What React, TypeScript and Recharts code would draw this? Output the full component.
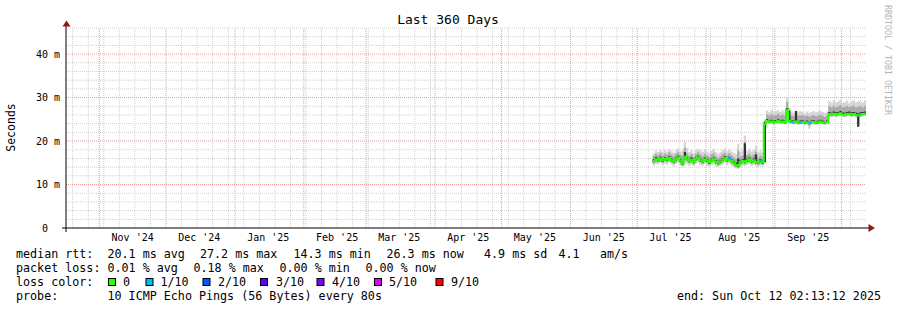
import { Area, ComposedChart, Line, ReferenceLine, XAxis, YAxis } from "recharts";

const FONT = '"DejaVu Sans Mono", monospace';

// x runs in days since Thu Oct 17 2024 (graph start); the graph ends 360 days later.
const firstDay = 264; // Jul 8 '25, first day with samples

// median rtt and the smoke (ms), one value per day from firstDay
const medianMs = [
  15.4, 15.8, 15.6, 16.0, 15.5, 15.9, 15.7, 16.1, 15.6, 15.3,
  15.8, 16.2, 15.5, 14.8, 16.4, 15.9, 15.4, 15.7, 15.2, 15.9,
  16.2, 15.6, 15.3, 15.8, 15.5, 15.1, 15.6, 15.9, 15.2, 14.9,
  15.3, 15.7, 16.1, 15.6, 16.0, 15.4, 15.0, 14.5, 14.3, 15.1,
  15.4, 15.2, 15.5, 15.8, 15.3, 15.6, 15.2, 15.0, 15.4, 15.1,
  24.0, 24.6, 24.4, 24.5, 24.3, 24.4, 24.6, 24.4, 24.5, 24.3,
  27.2, 24.6, 24.4, 24.3, 24.5, 24.2, 24.3, 24.4, 24.2, 24.3,
  24.1, 24.3, 24.4, 24.2, 24.3, 24.5, 24.3, 24.2, 24.4, 26.2,
  26.0, 26.3, 26.1, 26.2, 26.4, 26.1, 26.0, 26.2, 26.3, 26.1,
  26.2, 26.0, 25.9, 26.1, 26.2, 26.3, 26.3,
];
const maxMs = [
  17.2, 17.8, 17.5, 18.0, 17.4, 17.9, 17.6, 18.1, 17.7, 17.3,
  17.9, 18.3, 17.6, 17.8, 19.8, 18.4, 17.5, 17.9, 17.2, 18.0,
  18.2, 17.8, 17.4, 18.1, 17.6, 17.3, 17.8, 18.2, 17.5, 17.1,
  17.4, 17.9, 18.3, 17.7, 18.1, 17.6, 17.3, 17.0, 19.4, 17.5,
  17.8, 21.3, 17.7, 18.2, 17.6, 17.9, 19.0, 17.4, 17.8, 17.3,
  25.0, 27.0, 26.6, 27.2, 26.8, 26.9, 27.1, 26.7, 27.0, 26.6,
  30.2, 27.6, 26.8, 26.5, 27.0, 26.6, 26.9, 26.7, 26.4, 26.8,
  26.5, 26.7, 26.9, 26.6, 26.8, 27.0, 26.7, 26.5, 26.8, 29.2,
  28.8, 29.4, 28.9, 29.1, 29.5, 28.8, 29.0, 29.3, 28.7, 29.2,
  29.4, 28.9, 29.1, 29.3, 28.8, 29.4, 29.0,
];
const minMs = [
  14.3, 14.7, 14.6, 14.9, 14.5, 14.8, 14.6, 15.0, 14.6, 14.2,
  14.7, 15.0, 14.4, 13.9, 14.9, 14.8, 14.3, 14.6, 14.2, 14.8,
  15.0, 14.5, 14.3, 14.7, 14.4, 14.1, 14.5, 14.8, 14.1, 14.0,
  14.3, 14.6, 15.0, 14.5, 14.9, 14.3, 14.0, 13.7, 13.6, 14.1,
  14.4, 14.2, 14.5, 14.7, 14.2, 14.5, 14.2, 14.0, 14.3, 14.1,
  15.0, 24.0, 23.9, 24.1, 23.8, 24.0, 24.1, 23.9, 24.0, 23.8,
  25.8, 24.0, 23.9, 23.8, 24.0, 23.7, 23.8, 23.9, 23.6, 23.8,
  22.8, 23.8, 23.9, 23.7, 23.8, 24.0, 23.8, 23.7, 23.9, 25.6,
  25.5, 25.7, 25.5, 25.6, 25.8, 25.5, 25.4, 25.6, 25.7, 25.5,
  25.6, 25.4, 23.6, 25.5, 25.6, 25.7, 25.7,
];
const midLowMs = [
  14.9, 15.3, 15.2, 15.5, 15.0, 15.4, 15.1, 15.6, 15.2, 14.8,
  15.2, 15.7, 15.0, 14.4, 15.5, 15.4, 14.9, 15.3, 14.7, 15.4,
  15.7, 15.1, 14.8, 15.3, 15.0, 14.6, 15.1, 15.4, 14.8, 14.5,
  14.8, 15.2, 15.6, 15.1, 15.5, 14.9, 14.5, 14.1, 13.9, 14.6,
  14.9, 14.7, 15.0, 15.3, 14.8, 15.1, 14.7, 14.5, 14.9, 14.6,
  15.1, 24.3, 24.1, 24.2, 24.0, 24.1, 24.3, 24.1, 24.2, 24.0,
  26.5, 24.3, 24.1, 24.0, 24.2, 23.9, 24.0, 24.1, 23.9, 24.0,
  23.5, 24.0, 24.1, 23.9, 24.0, 24.2, 24.0, 23.9, 24.1, 25.9,
  25.7, 26.0, 25.8, 25.9, 26.1, 25.8, 25.7, 25.9, 26.0, 25.8,
  25.9, 25.7, 24.2, 25.8, 25.9, 26.0, 26.0,
];
const midHighMs = [
  16.6, 17.1, 16.8, 17.3, 16.7, 17.1, 16.9, 17.4, 16.9, 16.5,
  17.1, 17.4, 16.8, 16.6, 18.5, 17.2, 16.6, 17.0, 16.4, 17.1,
  17.4, 16.9, 16.5, 17.1, 16.7, 16.4, 16.9, 17.2, 16.5, 16.1,
  16.5, 17.0, 17.3, 16.8, 17.2, 16.7, 16.3, 15.9, 17.8, 16.4,
  16.7, 19.8, 16.8, 17.1, 16.5, 16.9, 17.6, 16.2, 16.6, 16.3,
  24.6, 26.1, 25.8, 26.2, 25.9, 26.0, 26.3, 25.9, 26.1, 25.8,
  29.0, 26.4, 25.9, 25.7, 26.1, 25.8, 25.9, 26.0, 25.7, 25.9,
  25.6, 25.8, 26.0, 25.7, 25.9, 26.1, 25.8, 25.6, 25.9, 28.0,
  27.7, 28.2, 27.8, 28.0, 28.3, 27.7, 27.9, 28.1, 27.8, 28.0,
  28.2, 27.8, 27.9, 28.1, 27.7, 28.2, 28.0,
];
const coreLowMs = [
  15.1, 15.5, 15.3, 15.7, 15.2, 15.6, 15.4, 15.8, 15.3, 15.0,
  15.5, 15.9, 15.2, 14.5, 15.9, 15.6, 15.1, 15.4, 14.9, 15.6,
  15.9, 15.3, 15.0, 15.5, 15.2, 14.8, 15.3, 15.6, 14.9, 14.6,
  15.0, 15.4, 15.8, 15.3, 15.7, 15.1, 14.7, 14.2, 14.0, 14.8,
  15.1, 14.9, 15.2, 15.5, 15.0, 15.3, 14.9, 14.7, 15.1, 14.8,
  15.2, 24.4, 24.2, 24.3, 24.1, 24.2, 24.4, 24.2, 24.3, 24.1,
  26.9, 24.4, 24.2, 24.1, 24.3, 24.0, 24.1, 24.2, 24.0, 24.1,
  23.9, 24.1, 24.2, 24.0, 24.1, 24.3, 24.1, 24.0, 24.2, 26.0,
  25.8, 26.1, 25.9, 26.0, 26.2, 25.9, 25.8, 26.0, 26.1, 25.9,
  26.0, 25.8, 23.3, 25.9, 26.0, 26.1, 26.1,
];
const coreHighMs = [
  15.8, 16.3, 16.0, 16.4, 15.9, 16.3, 16.1, 16.5, 16.0, 15.7,
  16.2, 16.6, 15.9, 15.3, 17.5, 16.3, 15.8, 16.2, 15.6, 16.3,
  16.6, 16.0, 15.7, 16.2, 15.9, 15.5, 16.0, 16.3, 15.6, 15.3,
  15.7, 16.1, 16.5, 16.0, 16.4, 15.8, 15.4, 15.0, 16.0, 15.5,
  15.8, 19.5, 15.9, 16.2, 15.7, 16.0, 16.9, 15.4, 15.8, 15.5,
  24.4, 25.0, 24.8, 24.9, 24.7, 24.8, 25.0, 24.8, 24.9, 24.7,
  27.6, 27.0, 24.8, 24.7, 26.9, 24.6, 24.7, 24.8, 24.6, 24.7,
  24.5, 24.7, 24.8, 24.6, 24.7, 24.9, 24.7, 24.6, 24.8, 26.7,
  26.5, 26.8, 26.6, 26.7, 26.9, 26.6, 26.5, 26.7, 26.8, 26.6,
  26.7, 26.5, 26.4, 26.6, 26.7, 26.8, 26.8,
];

// days where pings were lost (out of 10)
const lossDays = [298, 312, 326, 330, 334, 356];
const lossCounts = [1, 1, 1, 1, 1, 1];

const lossLabels = ["0", "1/10", "2/10", "3/10", "4/10", "5/10", "9/10"];
const lossLevels = [0, 1, 2, 3, 4, 5, 9];
const lossColors = ["#26ff00", "#00b8ff", "#0059ff", "#5e00ff", "#7e00ff", "#dd00ff", "#ff0000"];

const monthStartDays = [15, 45, 76, 107, 135, 166, 196, 227, 257, 288, 319, 349];
const monthLabelDays = [30, 60, 91, 122, 150, 181, 211, 242, 272, 303, 334];
const monthLabels = [
  "Nov '24", "Dec '24", "Jan '25", "Feb '25", "Mar '25", "Apr '25",
  "May '25", "Jun '25", "Jul '25", "Aug '25", "Sep '25",
];
const weekDays: number[] = [];
for (let d = 3; d < 360; d += 7) if (!monthStartDays.includes(d)) weekDays.push(d); // Sundays

const yTicks = [0, 10, 20, 30, 40];
const minorMs: number[] = [];
for (let v = 2; v <= 46; v += 2) if (v % 10 !== 0) minorMs.push(v);
const majorMs = [10, 20, 30, 40];

const rows = medianMs.map((median, i) => {
  const day = firstDay + i;
  const k = lossDays.indexOf(day);
  return {
    day,
    median,
    outer: [minMs[i], maxMs[i]],
    mid: [midLowMs[i], midHighMs[i]],
    core: [coreLowMs[i], coreHighMs[i]],
    lost: k >= 0 ? lossCounts[k] : 0,
  };
});

const lossColor = (n: number) => {
  let c = lossColors[0];
  lossLevels.forEach((lvl, i) => {
    if (n >= lvl) c = lossColors[i];
  });
  return c;
};

const LossMark = (props: any) => {
  const { cx, cy, payload, index } = props;
  if (!payload || !payload.lost) return <g key={`m${index}`} />;
  return <rect key={`m${index}`} x={cx} y={cy - 1} width={3} height={2} fill={lossColor(payload.lost)} />;
};

const rtt = [
  ["median rtt:", 16],
  ["20.1 ms avg", 107.5],
  ["27.2 ms max", 200],
  ["14.3 ms min", 293.5],
  ["26.3 ms now", 386.5],
  ["4.9 ms sd", 484],
  ["4.1", 558.5],
  ["am/s", 600],
] as const;
const loss = [
  ["packet loss:", 16],
  ["0.01 % avg", 107.5],
  ["0.18 % max", 193.5],
  ["0.00 % min", 279.5],
  ["0.00 % now", 365.5],
] as const;
const boxX = [108, 145.5, 202.5, 260, 316.5, 374, 435.5];
const boxLabelX = [123, 160.5, 218, 276, 332, 389, 451];

const MINOR = "#cfcfcf";
const MAJOR = "#f09a9a";

export default function App() {
  const tick = { fontSize: 10, fontFamily: FONT, fill: "#000" };
  return (
    <div style={{ position: "absolute", left: 0, top: 0, width: 897, height: 310, background: "#fff" }}>
      <ComposedChart width={897} height={310} data={rows} margin={{ top: 28, right: 31, bottom: 62, left: 0 }}>
        <XAxis
          dataKey="day"
          type="number"
          domain={[0, 360]}
          allowDataOverflow
          ticks={monthLabelDays}
          interval={0}
          tickFormatter={(d: number) => monthLabels[monthLabelDays.indexOf(d)]}
          tickLine={false}
          tickSize={4}
          tickMargin={2}
          axisLine={{ stroke: "#000" }}
          tick={tick}
          height={20}
        />
        <YAxis
          type="number"
          domain={[0, 46]}
          allowDataOverflow
          ticks={yTicks}
          interval={0}
          // rrdtool pads the unit-less zero label, so it sits further left
          tickFormatter={(v: number) => (v === 0 ? "0\u00a0\u00a0" : `${v} m`)}
          tickLine={false}
          tickSize={4}
          tickMargin={2}
          axisLine={{ stroke: "#000" }}
          tick={tick}
          width={66}
        />
        {minorMs.map((v) => (
          <ReferenceLine key={`h${v}`} y={v} stroke={MINOR} strokeDasharray="1 1" zIndex={-50} />
        ))}
        {weekDays.map((d) => (
          <ReferenceLine key={`v${d}`} x={d} stroke={MINOR} strokeDasharray="1 1" zIndex={-50} />
        ))}
        {majorMs.map((v) => (
          <ReferenceLine key={`H${v}`} y={v} stroke={MAJOR} strokeDasharray="1 1" zIndex={-40} />
        ))}
        {monthStartDays.map((d) => (
          <ReferenceLine key={`V${d}`} x={d} stroke={MAJOR} strokeDasharray="1 1" zIndex={-40} />
        ))}
        <Area dataKey="outer" type="stepAfter" fill="#d6d6d6" fillOpacity={1} stroke="none" dot={false} activeDot={false} isAnimationActive={false} />
        <Area dataKey="mid" type="stepAfter" fill="#ababab" fillOpacity={1} stroke="none" dot={false} activeDot={false} isAnimationActive={false} />
        <Area dataKey="core" type="stepAfter" fill="#333333" fillOpacity={1} stroke="none" dot={false} activeDot={false} isAnimationActive={false} />
        <Line dataKey="median" type="stepAfter" stroke={lossColors[0]} strokeWidth={2} dot={LossMark} activeDot={false} isAnimationActive={false} />
      </ComposedChart>

      <svg width={897} height={310} style={{ position: "absolute", left: 0, top: 0, pointerEvents: "none" }} fontFamily={FONT}>
        <line x1={62} y1={228} x2={66} y2={228} stroke="#000" />
        <line x1={866} y1={228} x2={869} y2={228} stroke="#000" />
        <line x1={66} y1={228} x2={66} y2={232} stroke="#000" />
        <line x1={66} y1={26} x2={66} y2={28} stroke="#000" />
        <polygon points="62.5,26.5 70.5,26.5 66.5,20.5" fill="#8b1a1a" />
        <polygon points="868.5,224 868.5,232 875,228" fill="#8b1a1a" />

        <text x={448} y={24} textAnchor="middle" fontSize={13} fill="#000">Last 360 Days</text>
        <text x={15} y={127.5} textAnchor="middle" fontSize={11.5} fill="#000" transform="rotate(-90 15 127.5)">Seconds</text>
        <text x={885} y={5} fontSize={8.3} fill="#b4b4b4" transform="rotate(90 885 5)">RRDTOOL / TOBI OETIKER</text>

        {rtt.map(([s, x]) => (
          <text key={s} x={x} y={257.5} fontSize={11.7} fill="#000" style={{ whiteSpace: "pre" }}>{s}</text>
        ))}
        {loss.map(([s, x]) => (
          <text key={s + x} x={x} y={271.5} fontSize={11.7} fill="#000" style={{ whiteSpace: "pre" }}>{s}</text>
        ))}
        <text x={16} y={285.5} fontSize={11.7} fill="#000">loss color:</text>
        {lossLabels.map((s, i) => (
          <g key={s}>
            <rect x={boxX[i] + 0.5} y={278.5} width={7} height={7} fill={lossColors[i]} stroke="#000" />
            <text x={boxLabelX[i]} y={285.5} fontSize={11.7} fill="#000">{s}</text>
          </g>
        ))}
        <text x={16} y={299.5} fontSize={11.7} fill="#000">probe:</text>
        <text x={107.5} y={299.5} fontSize={11.7} fill="#000" style={{ whiteSpace: "pre" }}>10 ICMP Echo Pings (56 Bytes) every 80s</text>
        <text x={881} y={299.5} textAnchor="end" fontSize={11.7} fill="#000">end: Sun Oct 12 02:13:12 2025</text>
      </svg>
    </div>
  );
}
